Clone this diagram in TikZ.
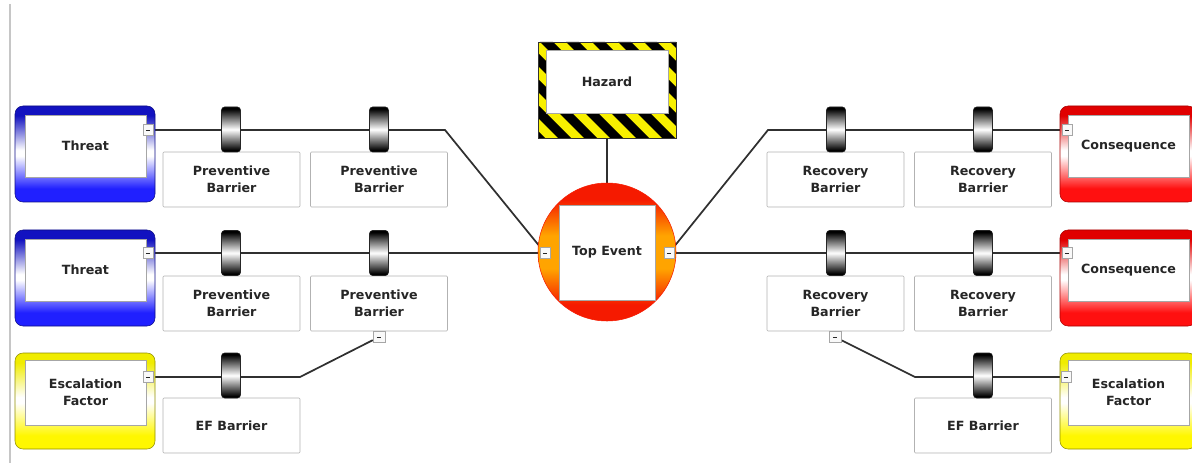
\documentclass[tikz,border=0pt]{standalone}
\usepackage{fontspec}
\setmainfont{DejaVu Sans}
\usetikzlibrary{calc}
\pgfdeclarelayer{wires}
\pgfsetlayers{wires,main}
\newlength{\pxu}
\setlength{\pxu}{0.75pt}
\definecolor{ink}{HTML}{262626}
\definecolor{wire}{HTML}{303030}
\definecolor{thblue}{HTML}{1212C0}
\definecolor{thblueb}{HTML}{2020FF}
\definecolor{cqred}{HTML}{E00000}
\definecolor{cqredb}{HTML}{FF1010}
\definecolor{efyel}{HTML}{F0EC00}
\definecolor{efyelb}{HTML}{FFF700}
\definecolor{hzyel}{HTML}{F8F000}
\definecolor{teorange}{HTML}{FFA400}
\definecolor{tered}{HTML}{F51A00}

% frame shadings: solid band at top and bottom, white across the middle
% (path bottom sits at 25bp, path top at 75bp)
\pgfdeclareverticalshading{threatshade}{100bp}{color(0bp)=(thblueb); color(32bp)=(thblueb); color(49bp)=(white); color(52bp)=(white); color(70bp)=(thblue); color(100bp)=(thblue)}
\pgfdeclareverticalshading{conshade}{100bp}{color(0bp)=(cqredb); color(32bp)=(cqredb); color(49bp)=(white); color(52bp)=(white); color(70bp)=(cqred); color(100bp)=(cqred)}
\pgfdeclareverticalshading{efshade}{100bp}{color(0bp)=(efyelb); color(32bp)=(efyelb); color(49bp)=(white); color(52bp)=(white); color(70bp)=(efyel); color(100bp)=(efyel)}
\pgfdeclareverticalshading{teshade}{100bp}{color(0bp)=(tered); color(31bp)=(tered); color(44bp)=(teorange); color(56bp)=(teorange); color(69bp)=(tered); color(100bp)=(tered)}
\pgfdeclareverticalshading{ringshade}{100bp}{color(0bp)=(black); color(27bp)=(black); color(50bp)=(white); color(73bp)=(black); color(100bp)=(black)}

\tikzset{
  lbl/.style={font=\bfseries\fontsize{9.5}{12.5}\selectfont, text=ink, align=center},
  outerframe/.style={rounded corners=8\pxu, minimum width=140\pxu, minimum height=96\pxu, inner sep=0pt},
  threatframe/.style={outerframe, draw=thblue!70!black, shading=threatshade},
  conframe/.style={outerframe, minimum width=136\pxu, draw=cqred!75!black, shading=conshade},
  efframe/.style={outerframe, draw=efyel!60!black, shading=efshade},
  panel/.style={lbl, draw=gray!70, fill=white, minimum width=121\pxu, minimum height=62\pxu, inner sep=0pt},
  barrierbox/.style={lbl, draw=gray!60, fill=white, rounded corners=1\pxu, minimum width=137\pxu, minimum height=55\pxu, inner sep=0pt},
  ring/.style={draw=black!85, rounded corners=3\pxu, minimum width=19\pxu, minimum height=45\pxu, inner sep=0pt, shading=ringshade},
  btn/.style={draw=gray!70, fill=gray!5, minimum width=10\pxu, minimum height=11\pxu, inner sep=0pt,
    path picture={\draw[ink, line width=0.5pt]
      ([xshift=-2.2\pxu]path picture bounding box.center) --
      ([xshift=2.2\pxu]path picture bounding box.center);}},
  wirestyle/.style={draw=wire, line width=1.3pt}
}

\begin{document}
\begin{tikzpicture}[x=0.75pt, y=-0.75pt]
\path[use as bounding box] (0,0) rectangle (1192,463);
\clip (0,0) rectangle (1192,463);

% margin rule on the left
\draw[gray!45, line width=1pt] (10,4) -- (10,463);

% ---------- hazard: striped frame with white panel ----------
\begin{scope}
  \clip (538,42) rectangle (676,138);
  \fill[hzyel] (538,42) rectangle (676,138);
  \foreach \k in {0,...,10}
    \fill[black] (436+\k*26,42) -- ++(13,0) -- ++(96,96) -- ++(-13,0) -- cycle;
\end{scope}
\node[draw=black!80, line width=0.6pt, minimum width=138\pxu, minimum height=96\pxu, inner sep=0pt] (hzf) at (607,90) {};
\node[panel, minimum width=122\pxu, minimum height=63\pxu] (hz) at (607,81.5) {Hazard};

% ---------- top event ----------
\node[circle, minimum size=138\pxu, inner sep=0pt, draw=tered, shading=teshade] (tedisc) at (607,252) {};
\node[panel, minimum width=96\pxu, minimum height=95\pxu] (te) at (607,252.5) {Top Event};
\node[btn] (teL) at (545,253) {};
\node[btn] (teR) at (669,253) {};

% ---------- threats and escalation factor (left) ----------
\node[threatframe] (t1f) at (85,154) {};
\node[panel] (t1) at (85.5,146) {Threat};
\node[btn] (t1b) at (148,130) {};

\node[threatframe] (t2f) at (85,278) {};
\node[panel] (t2) at (85.5,270) {Threat};
\node[btn] (t2b) at (148,253) {};

\node[efframe] (e1f) at (85,401) {};
\node[panel, minimum height=65\pxu] (e1) at (85.5,392.5) {Escalation\\Factor};
\node[btn] (e1b) at (148,377) {};

% ---------- consequences and escalation factor (right) ----------
\node[conframe] (c1f) at (1128,154) {};
\node[panel] (c1) at (1128.5,146) {Consequence};
\node[btn] (c1b) at (1067,130) {};

\node[conframe] (c2f) at (1128,278) {};
\node[panel] (c2) at (1128.5,270) {Consequence};
\node[btn] (c2b) at (1067,253) {};

\node[efframe, minimum width=136\pxu] (e2f) at (1128,401) {};
\node[panel, minimum height=65\pxu] (e2) at (1128.5,392.5) {Escalation\\Factor};
\node[btn] (e2b) at (1066,377) {};

% ---------- barrier boxes ----------
\node[barrierbox] (p11) at (231.5,179.5) {Preventive\\Barrier};
\node[barrierbox] (p12) at (379,179.5) {Preventive\\Barrier};
\node[barrierbox] (p21) at (231.5,303.5) {Preventive\\Barrier};
\node[barrierbox] (p22) at (379,303.5) {Preventive\\Barrier};
\node[barrierbox] (efl) at (231.5,425.5) {EF Barrier};

\node[barrierbox] (r11) at (835.5,179.5) {Recovery\\Barrier};
\node[barrierbox] (r12) at (983,179.5) {Recovery\\Barrier};
\node[barrierbox] (r21) at (835.5,303.5) {Recovery\\Barrier};
\node[barrierbox] (r22) at (983,303.5) {Recovery\\Barrier};
\node[barrierbox] (efr) at (983,425.5) {EF Barrier};

\node[btn, minimum width=12\pxu] (p22b) at (379,337) {};
\node[btn, minimum width=12\pxu] (r21b) at (835,337) {};

% ---------- barrier rings sitting on the pathways ----------
\node[ring] (p11r) at (231,129.5) {};
\node[ring] (p12r) at (379,129.5) {};
\node[ring] (p21r) at (231,253) {};
\node[ring] (p22r) at (379,253) {};
\node[ring] (eflr) at (231,375.5) {};
\node[ring] (r11r) at (836,129.5) {};
\node[ring] (r12r) at (983,129.5) {};
\node[ring] (r21r) at (836,253) {};
\node[ring] (r22r) at (983,253) {};
\node[ring] (efrr) at (983,375.5) {};

% ---------- bends of the pathways ----------
\coordinate (kL1) at (445,130);
\coordinate (kR1) at (768,130);
\coordinate (kL3) at (300,377);
\coordinate (kR3) at (915,377);

% ---------- pathways ----------
\begin{pgfonlayer}{wires}
  \draw[wirestyle] (t1b.east) -- (kL1) -- (teL);
  \draw[wirestyle] (t2b.east) -- (teL.west);
  \draw[wirestyle] (teR) -- (kR1) -- (c1b.west);
  \draw[wirestyle] (teR.east) -- (c2b.west);
  \draw[wirestyle] (e1b.east) -- (kL3) -- (p22b);
  \draw[wirestyle] (r21b) -- (kR3) -- (e2b.west);
  \draw[wirestyle] (hzf.south) -- (tedisc.north);
\end{pgfonlayer}
\end{tikzpicture}
\end{document}
